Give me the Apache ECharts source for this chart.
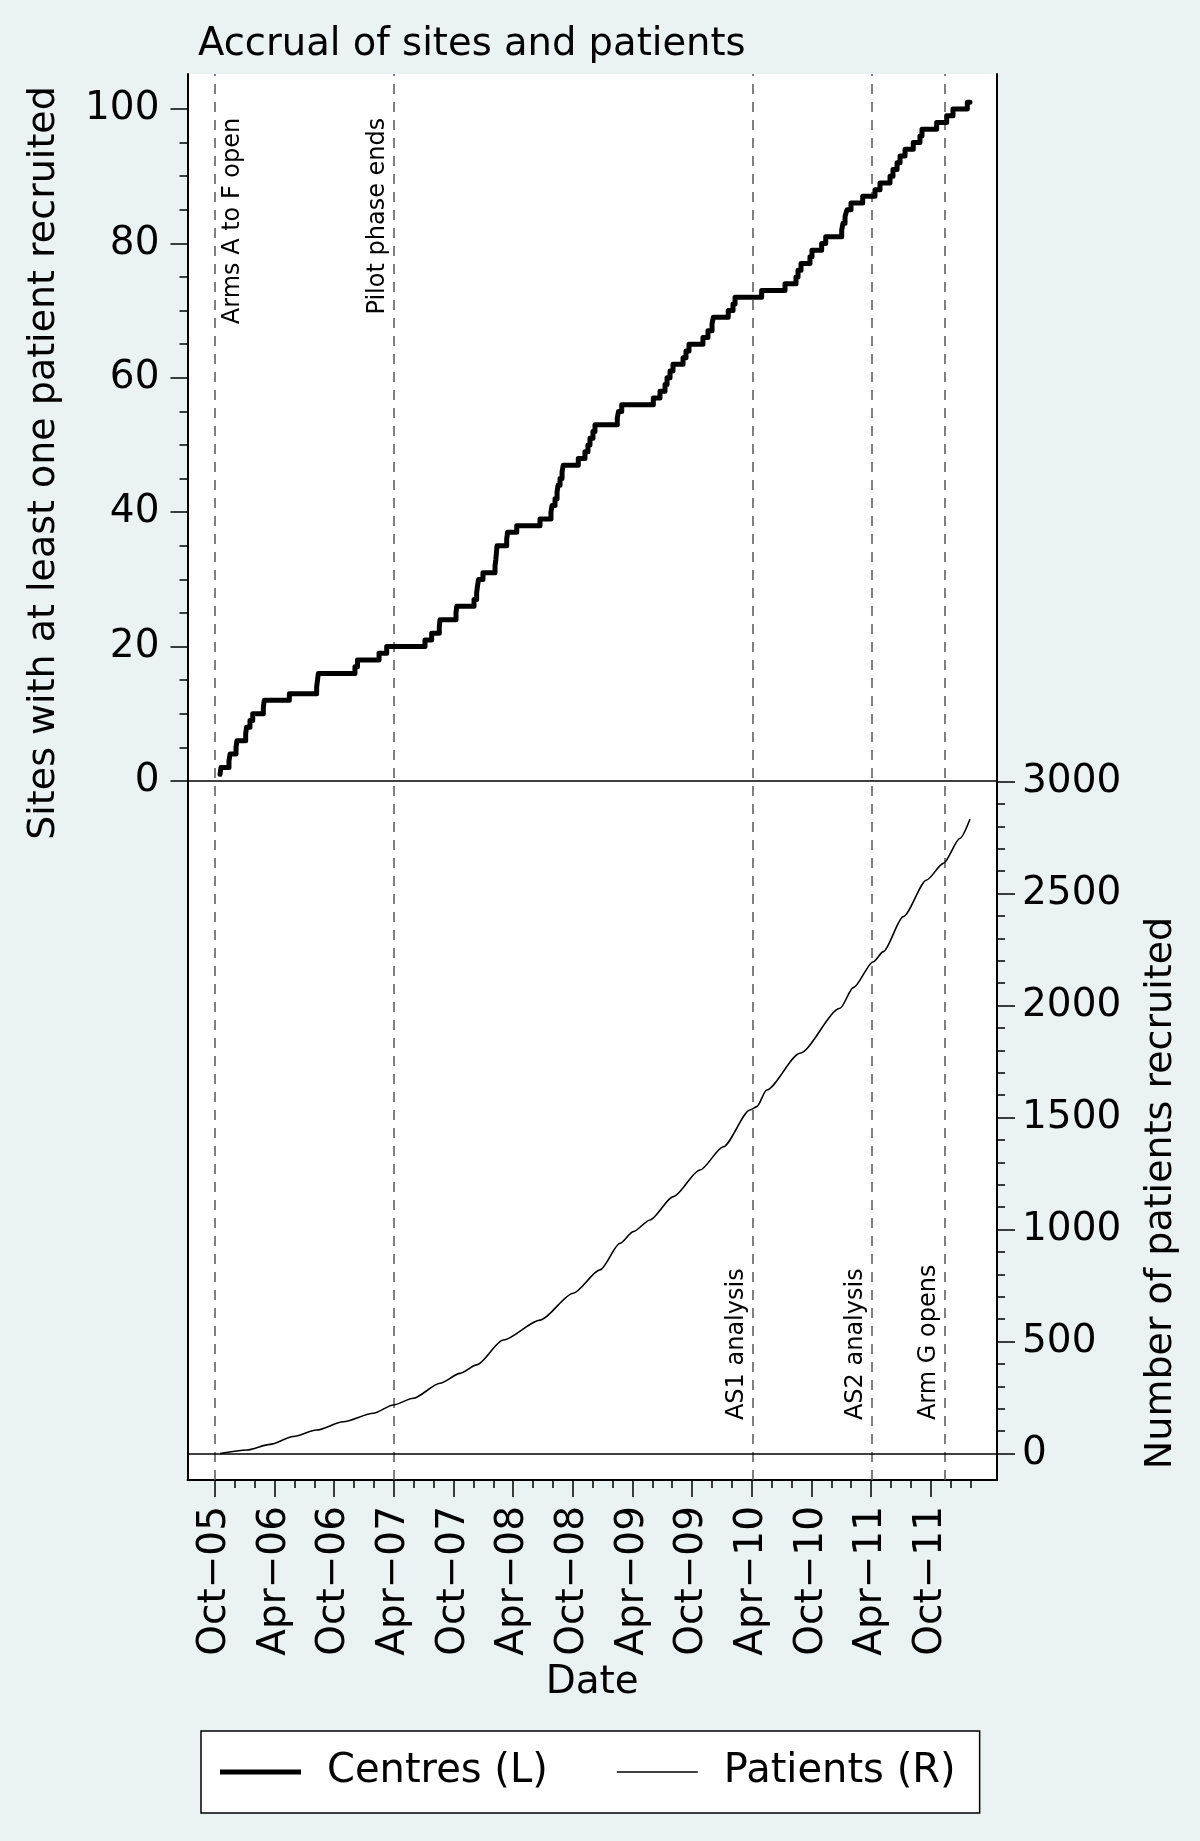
<!DOCTYPE html>
<html><head><meta charset="utf-8">
<script src="https://cdn.jsdelivr.net/npm/echarts@6/dist/echarts.min.js"></script>
<style>html,body{margin:0;padding:0;background:#EAF2F3;} #chart{width:1200px;height:1841px;}</style>
</head><body><div id="chart"></div>
<script>
// ---- Data (x in decimal years) ----
const siteDates = [2005.793,2005.801,2005.868,2005.877,2005.927,2005.935,2006.008,2006.015,2006.044,2006.067,
  2006.156,2006.164,2006.374,2006.603,2006.610,2006.617,2006.924,2006.945,2007.126,2007.190,
  2007.511,2007.567,2007.631,2007.637,2007.771,2007.777,2007.922,2007.944,2007.951,2007.960,
  2007.997,2008.098,2008.105,2008.110,2008.115,2008.196,2008.203,2008.280,2008.475,2008.567,
  2008.576,2008.601,2008.618,2008.626,2008.643,2008.660,2008.670,2008.796,2008.852,2008.877,
  2008.894,2008.919,2008.936,2009.123,2009.133,2009.160,2009.425,2009.481,2009.523,2009.540,
  2009.565,2009.590,2009.674,2009.699,2009.724,2009.841,2009.883,2009.917,2009.928,2010.053,
  2010.093,2010.110,2010.333,2010.529,2010.621,2010.638,2010.663,2010.738,2010.755,2010.836,
  2010.870,2011.004,2011.015,2011.032,2011.048,2011.082,2011.180,2011.283,2011.325,2011.409,
  2011.434,2011.468,2011.493,2011.535,2011.604,2011.660,2011.677,2011.800,2011.884,2011.937,
  2012.057,2012.079];
const siteCounts = [1,2,3,4,5,6,7,8,9,10,11,12,13,14,15,16,17,18,19,20,
  21,22,23,24,25,26,27,28,29,30,31,32,33,34,35,36,37,38,39,40,
  41,42,43,44,45,46,47,48,49,50,51,52,53,54,55,56,57,58,59,60,
  61,62,63,64,65,66,67,68,69,70,71,72,73,74,75,76,77,78,79,80,
  81,82,83,84,85,86,87,88,89,90,91,92,93,94,95,96,97,98,99,100,
  101,101];
const patientDates = [2005.793,2006.017,2006.212,2006.407,2006.603,2006.826,2007.078,2007.245,2007.413,2007.637,
  2007.805,2007.944,2008.167,2008.475,2008.754,2008.978,2009.146,2009.257,2009.397,2009.592,
  2009.816,2010.012,2010.235,2010.292,2010.375,2010.654,2010.990,2011.101,2011.269,2011.353,
  2011.520,2011.716,2011.856,2011.996,2012.079];
const patientCounts = [0,16,41,76,105,142,180,217,247,314,
  358,396,507,596,716,820,939,991,1043,1147,
  1266,1370,1534,1549,1623,1787,1988,2080,2196,2241,
  2397,2561,2635,2747,2832];

const xTickDates = [2005.75,2006.25,2006.75,2007.25,2007.75,2008.25,2008.75,2009.25,2009.75,2010.25,2010.75,2011.25,2011.75];
const xTickLabels = ['Oct\u221205','Apr\u221206','Oct\u221206','Apr\u221207','Oct\u221207','Apr\u221208','Oct\u221208','Apr\u221209','Oct\u221209','Apr\u221210','Oct\u221210','Apr\u221211','Oct\u221211'];
const leftTicks = [0,20,40,60,80,100];
const rightTicks = [0,500,1000,1500,2000,2500,3000];

const eventDates = [2005.75, 2007.25, 2010.26, 2011.26, 2011.867];
const eventLabels = ['Arms A to F open','Pilot phase ends','AS1 analysis','AS2 analysis','Arm G opens'];
const eventLabelY = [98.7, 98.7, -95.1, -95.1, -95.1];
const eventSide = ['right','left','left','left','left'];

// ---- derived tick lists (axis config) ----
const leftMinor = []; for (let v = 0; v <= 100; v += 5) leftMinor.push(v);
const rightMinor = []; for (let v = 0; v <= 3000; v += 100) rightMinor.push(v);
const xMinor = []; for (let k = 0; k <= 38; k++) xMinor.push(+(2005.75 + k / 6).toFixed(4));

const FONT = 'DejaVu Sans';
const X_MIN = 2005.5203, X_MAX = 2012.3058;
const L_MIN = -104.02, L_MAX = 105.21;
const R_MIN = -117.9, R_MAX = 6158.9;

const chart = echarts.init(document.getElementById('chart'), null, {renderer: 'canvas'});

function xLabel(v) {
  for (let i = 0; i < xTickDates.length; i++) if (Math.abs(xTickDates[i] - v) < 1e-3) return xTickLabels[i];
  return '';
}
const plainNum = v => String(Math.round(v));
const tickStyle = {color: '#000', width: 1.5};

const option = {
  animation: false,
  backgroundColor: '#EAF2F3',
  textStyle: {fontFamily: FONT},
  title: {
    text: 'Accrual of sites and patients', left: 193, top: 20,
    textStyle: {fontFamily: FONT, fontSize: 38.5, fontWeight: 'normal', color: '#000'}
  },
  legend: {
    left: 201, top: 1731,
    padding: [19, 24, 19, 19],
    backgroundColor: '#fff', borderColor: '#000', borderWidth: 1.5,
    itemWidth: 81, itemHeight: 20, itemGap: 69, symbolKeepAspect: true,
    textStyle: {fontFamily: FONT, fontSize: 40, color: '#000', lineHeight: 44, padding: [0, 0, 0, 21]},
    data: [
      {name: 'Centres (L)', icon: 'path://M0 0H81V5H0Z', itemStyle: {color: '#000'}},
      {name: 'Patients (R)', icon: 'path://M0 0H81V1.5H0Z', itemStyle: {color: '#000'}}
    ]
  },
  grid: {left: 187.5, right: 203, top: 74, bottom: 361, show: true, backgroundColor: '#fff', borderWidth: 0, containLabel: false},
  xAxis: [
    {type: 'value', min: X_MIN, max: X_MAX, position: 'bottom',
      axisLine: {show: true, onZero: false, lineStyle: {color: '#000', width: 2}},
      axisTick: {show: true, length: 17, lineStyle: tickStyle, customValues: xTickDates},
      axisLabel: {customValues: xTickDates, rotate: 90, formatter: xLabel, fontSize: 39, color: '#000', margin: 26, fontFamily: FONT},
      splitLine: {show: false},
      name: 'Date', nameLocation: 'middle', nameGap: 175,
      nameTextStyle: {fontFamily: FONT, fontSize: 39, color: '#000'}
    },
    {type: 'value', min: X_MIN, max: X_MAX, position: 'bottom',
      axisLine: {show: false, onZero: false},
      axisTick: {show: true, length: 8, lineStyle: tickStyle, customValues: xMinor},
      axisLabel: {show: false}, splitLine: {show: false}
    }
  ],
  yAxis: [
    {type: 'value', min: L_MIN, max: L_MAX, position: 'left',
      axisLine: {show: true, onZero: false, lineStyle: {color: '#000', width: 2}},
      axisTick: {show: true, length: 17, lineStyle: tickStyle, customValues: leftTicks},
      axisLabel: {customValues: leftTicks, formatter: plainNum, fontSize: 39, color: '#000', margin: 28, fontFamily: FONT},
      splitLine: {show: false}
    },
    {type: 'value', min: L_MIN, max: L_MAX, position: 'left',
      axisLine: {show: false, onZero: false},
      axisTick: {show: true, length: 8, lineStyle: tickStyle, customValues: leftMinor},
      axisLabel: {show: false}, splitLine: {show: false}
    },
    {type: 'value', min: R_MIN, max: R_MAX, position: 'right',
      axisLine: {show: true, onZero: false, lineStyle: {color: '#000', width: 2}},
      axisTick: {show: true, length: 18, lineStyle: tickStyle, customValues: rightTicks},
      axisLabel: {customValues: rightTicks, formatter: plainNum, fontSize: 39, color: '#000', margin: 25, fontFamily: FONT},
      splitLine: {show: false}
    },
    {type: 'value', min: R_MIN, max: R_MAX, position: 'right',
      axisLine: {show: false, onZero: false},
      axisTick: {show: true, length: 8, lineStyle: tickStyle, customValues: rightMinor},
      axisLabel: {show: false}, splitLine: {show: false}
    }
  ],
  series: [
    {name: 'Centres (L)', type: 'line', xAxisIndex: 0, yAxisIndex: 0, step: 'end', symbol: 'none',
      data: siteDates.map((d, i) => [d, siteCounts[i]]),
      lineStyle: {color: '#000', width: 5, join: 'round', cap: 'round'}, itemStyle: {color: '#000'}, z: 5,
      markLine: {silent: true, symbol: 'none', label: {show: false}, animation: false, z: 3,
        data: eventDates.map(d => ({xAxis: d, lineStyle: {type: [10, 8], color: '#555', width: 1.5}}))
          .concat([{yAxis: 0, lineStyle: {type: 'solid', color: '#000', width: 1.5}}])
      }
    },
    {name: 'Patients (R)', type: 'line', xAxisIndex: 0, yAxisIndex: 2, symbol: 'none',
      smooth: 0.25, smoothMonotone: 'x',
      data: patientDates.map((d, i) => [d, patientCounts[i]]),
      lineStyle: {color: '#000', width: 1.6}, itemStyle: {color: '#000'}, z: 4,
      markLine: {silent: true, symbol: 'none', label: {show: false}, animation: false,
        data: [{yAxis: 0, lineStyle: {type: 'solid', color: '#000', width: 1.5}}]
      }
    }
  ]
};
chart.setOption(option);

// annotations and rotated axis titles
const graphics = [
  {type: 'text', x: 44, y: 463, rotation: Math.PI / 2,
    style: {text: 'Sites with at least one patient recruited', fill: '#000', font: '38px "DejaVu Sans"', align: 'center', verticalAlign: 'middle'}},
  {type: 'text', x: 1161, y: 1193, rotation: Math.PI / 2,
    style: {text: 'Number of patients recruited', fill: '#000', font: '38px "DejaVu Sans"', align: 'center', verticalAlign: 'middle'}}
];
eventLabels.forEach((t, i) => {
  const p = chart.convertToPixel({xAxisIndex: 0, yAxisIndex: 0}, [eventDates[i], eventLabelY[i]]);
  const top = eventLabelY[i] > 0;
  const right = eventSide[i] === 'right';
  graphics.push({type: 'text', x: p[0] + (right ? 6 : -4), y: p[1], rotation: Math.PI / 2,
    style: {text: t, fill: '#000', font: '24px "DejaVu Sans"', align: top ? 'right' : 'left', verticalAlign: right ? 'top' : 'bottom'}});
});
chart.setOption({graphic: graphics});
</script></body></html>
